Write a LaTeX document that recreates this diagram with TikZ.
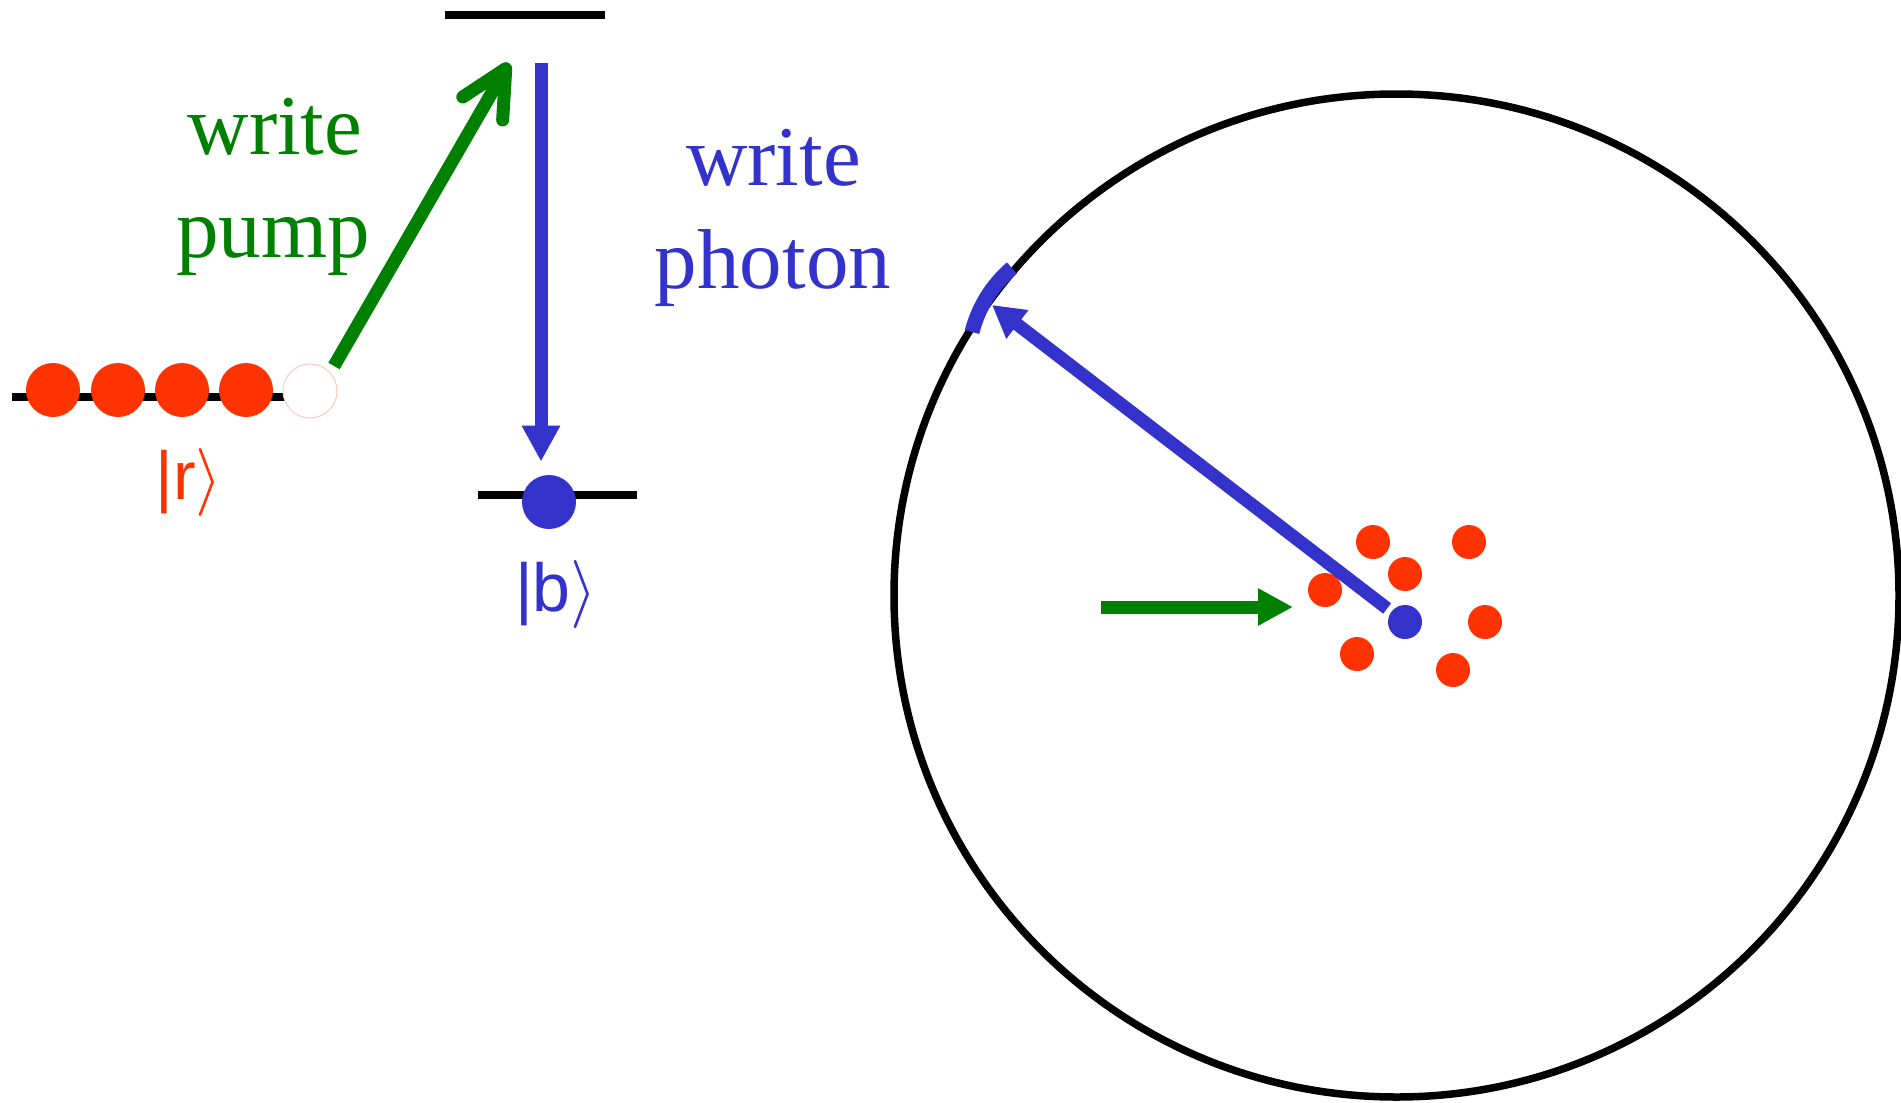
\documentclass[tikz,border=0pt]{standalone}
\usepackage{graphicx}
\usepackage{fontspec}
\setmainfont{Liberation Serif}
\newfontfamily\ketfont{Liberation Sans}
\usetikzlibrary{arrows.meta}
\definecolor{pumpgreen}{RGB}{0,128,0}
\definecolor{photonblue}{RGB}{51,51,204}
\definecolor{atomred}{RGB}{255,51,0}
\definecolor{emptyedge}{RGB}{255,200,185}
\newcommand{\bigrangle}{{\fontsize{10}{12}\selectfont\scalebox{3.4}{$\rangle$}}}
\begin{document}
\begin{tikzpicture}[x=0.5pt,y=-0.5pt,
  level/.style={line width=4pt,black},
  bigatom/.style={circle,fill=atomred,inner sep=0pt,minimum size=27pt},
  smallatom/.style={circle,fill=atomred,inner sep=0pt,minimum size=17pt},
  pumparrow/.style={pumpgreen,line width=6.5pt,
    -{Straight Barb[length=23pt,width=23pt,line cap=round,line join=round]}},
  photonarrow/.style={photonblue,line width=6.5pt,-{Triangle[length=18pt,width=18pt]}},
  beamarrow/.style={pumpgreen,line width=6.5pt,-{Triangle[length=17.5pt,width=17.5pt]}},
  emitarrow/.style={photonblue,line width=6.5pt,-{Triangle[length=16pt,width=17pt]}},
  bigtext/.style={font=\fontsize{42.5}{51}\selectfont,inner sep=0pt,anchor=base},
  kettext/.style={font=\ketfont\fontsize{34}{40}\selectfont,inner sep=0pt,anchor=base}
]
\useasboundingbox (0,0) rectangle (1901,1103);

% energy levels
\coordinate (g1) at (12,397);
\coordinate (g2) at (285,397);
\coordinate (e1) at (445,14.5);
\coordinate (e2) at (605,14.5);
\coordinate (s1) at (478,495);
\coordinate (s2) at (637,495);
\draw[level] (g1) -- (g2);
\draw[level] (e1) -- (e2);
\draw[level] (s1) -- (s2);

% atoms in |r>
\node[bigatom] (r1) at (53,390) {};
\node[bigatom] (r2) at (118,390) {};
\node[bigatom] (r3) at (182,390) {};
\node[bigatom] (r4) at (246,390) {};
\node[bigatom,fill=white,draw=emptyedge,line width=0.5pt] (r5) at (310,391) {};

% atom in |b>
\node[bigatom,fill=photonblue] (bb) at (549,502) {};

% write pump arrow
\coordinate (pumpstart) at (334,366);
\coordinate (pumpend) at (509,63);
\draw[pumparrow] (pumpstart) -- (pumpend);

% write photon arrow
\coordinate (emit) at (541,63);
\draw[photonarrow] (emit) -- ([yshift=6.5pt]bb.north -| emit);

% labels
\node[bigtext,pumpgreen] (wp1) at (275,154) {write};
\node[bigtext,pumpgreen] (wp2) at (273,257) {pump};
\node[bigtext,photonblue] (ph1) at (773.5,185.5) {write};
\node[bigtext,photonblue] (ph2) at (773,288.5) {photon};
\node[kettext,text=atomred] (ketr) at (189,499) {|r\bigrangle};
\node[kettext,text=photonblue] (ketb) at (556,611) {|b\bigrangle};

% cavity / sphere
\draw[line width=3.75pt] (1396.5,595.5) ellipse [x radius=251.25pt, y radius=250.75pt];

% cloud of atoms
\node[smallatom] (a1) at (1373,542) {};
\node[smallatom] (a2) at (1469,542) {};
\node[smallatom] (a3) at (1405,574) {};
\node[smallatom] (a4) at (1325,590) {};
\node[smallatom] (a5) at (1485,622) {};
\node[smallatom] (a6) at (1357,654) {};
\node[smallatom] (a7) at (1453,670) {};
\node[smallatom,fill=photonblue] (ba) at (1405,622) {};

% incoming pump beam
\coordinate (pin) at (1101,607);
\coordinate (pout) at (1293,607);
\draw[beamarrow] (pin) -- (pout);

% detector patch on the sphere
\coordinate (patch) at (972,332);
\draw[photonblue,line width=7.5pt] (patch) arc[start angle=194.4, end angle=229.5, radius=125];

% emitted photon
\coordinate (hit) at (992,305);
\draw[emitarrow,shorten <=2.5pt] (ba.143) -- (hit);
\end{tikzpicture}
\end{document}
